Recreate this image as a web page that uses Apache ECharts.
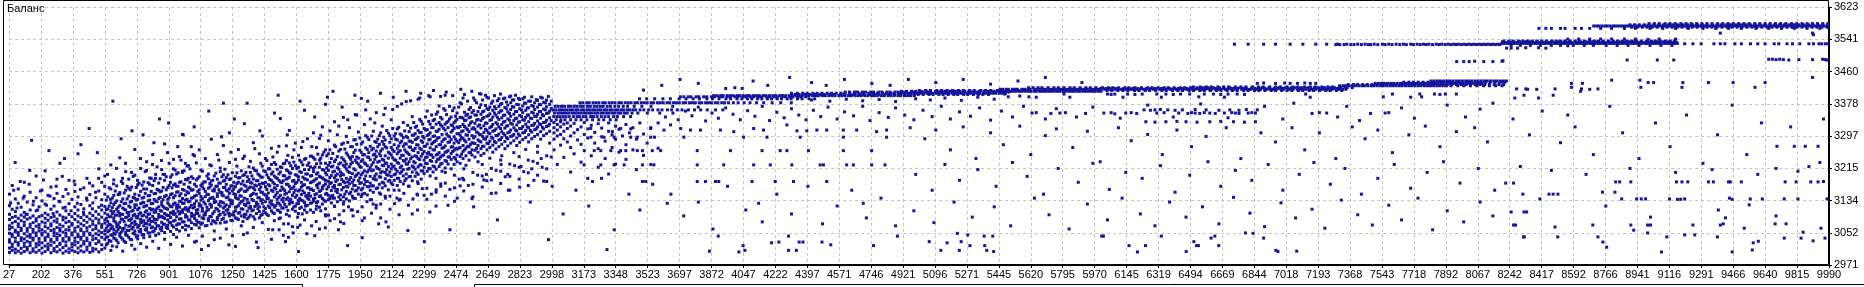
<!DOCTYPE html>
<html><head><meta charset="utf-8">
<script src="https://cdn.jsdelivr.net/npm/echarts@6/dist/echarts.min.js"></script>
<style>html,body{margin:0;padding:0;background:#fff}#c{width:1864px;height:287px}</style>
</head><body><div id="c"></div>
<script>
const title = 'Баланс';
const xTicks = [27,202,376,551,726,901,1076,1250,1425,1600,1775,1950,2124,2299,2474,2649,2823,2998,3173,3348,3523,3697,3872,4047,4222,4397,4571,4746,4921,5096,5271,5445,5620,5795,5970,6145,6319,6494,6669,6844,7018,7193,7368,7543,7718,7892,8067,8242,8417,8592,8766,8941,9116,9291,9466,9640,9815,9990];
const yTicks = [2971,3052,3134,3215,3297,3378,3460,3541,3623];

// cloud: [x, [y values]]
const cloudCols = [
[29,[3003,3014,3029,3035,3051,3062,3070,3086,3099,3121,3150]],[44,[3008,3017,3024,3043,3049,3066,3077,3091,3112,3172]],
[61,[3002,3011,3030,3039,3055,3059,3081,3094,3106,3138]],[77,[3006,3021,3027,3046,3053,3068,3075,3089,3127,3163]],
[93,[3001,3013,3033,3040,3058,3064,3083,3097,3117]],[110,[3005,3018,3026,3037,3050,3071,3079,3092,3104,3145,3180]],
[126,[3009,3015,3031,3044,3056,3063,3087,3099,3130]],[142,[3002,3020,3028,3041,3048,3067,3074,3090,3110,3155]],[150,[3286]],
[158,[3006,3012,3034,3039,3054,3061,3078,3095,3123]],[175,[3003,3017,3025,3045,3052,3069,3082,3088,3108,3141,3196]],
[191,[3008,3022,3030,3038,3057,3065,3073,3093,3118]],[207,[3001,3014,3027,3047,3051,3060,3080,3096,3133,3160]],
[224,[3005,3019,3033,3040,3055,3068,3077,3089,3102,3125,3209]],[240,[3010,3016,3024,3043,3049,3064,3084,3098,3147]],
[256,[3002,3021,3031,3036,3058,3070,3075,3091,3112,3168]],[273,[3007,3013,3028,3045,3053,3061,3082,3094,3120,3139]],
[289,[3004,3018,3035,3041,3050,3066,3079,3087,3105,3152,3188]],[305,[3009,3023,3026,3046,3057,3063,3073,3097,3131,3228]],
[322,[3001,3015,3032,3038,3054,3069,3085,3092,3115,3144]],[338,[3006,3020,3029,3044,3051,3060,3078,3090,3108,3162]],
[355,[3003,3012,3034,3040,3059,3067,3081,3099,3126,3185]],[371,[3008,3017,3025,3047,3052,3072,3076,3093,3137]],
[387,[3005,3022,3031,3039,3056,3064,3086,3101,3118,3157,3174]],[404,[3002,3014,3028,3043,3049,3068,3080,3095,3110,3143,3252]],
[420,[3007,3019,3036,3041,3058,3062,3075,3091,3124]],[436,[3004,3024,3030,3046,3053,3071,3084,3098,3113,3166]],
[453,[3009,3016,3033,3039,3057,3065,3079,3093,3135,3190]],[465,[3316]],
[469,[3003,3021,3027,3048,3051,3069,3087,3102,3121,3149]],[485,[3006,3013,3035,3044,3060,3074,3082,3096,3128,3171]],
[502,[3011,3025,3038,3050,3063,3070,3089,3106,3141]],[518,[3004,3029,3032,3047,3057,3077,3085,3099,3117,3158,3214]],
[534,[3010,3022,3041,3053,3066,3073,3092,3110,3136,3180]],
[551,[3014,3036,3049,3058,3077,3085,3102,3119,3150,3196]],[567,[3026,3042,3055,3070,3081,3098,3113,3143]],
[584,[3008,3031,3047,3063,3072,3093,3108,3128,3163,3224]],[595,[3385]],[600,[3039,3052,3061,3083,3090,3106,3124,3147,3186]],
[616,[3017,3033,3056,3068,3075,3097,3112,3133,3171]],[633,[3044,3050,3066,3079,3095,3101,3121,3154,3242]],
[649,[3006,3036,3059,3063,3086,3099,3115,3138,3177]],[665,[3028,3047,3053,3072,3091,3110,3127,3160,3207]],
[682,[3041,3058,3069,3084,3096,3104,3120,3145,3188]],[698,[3021,3035,3062,3077,3088,3107,3132,3168]],
[715,[3011,3049,3057,3073,3081,3099,3116,3123,3150,3198,3263]],[731,[3037,3045,3066,3090,3094,3111,3137,3174]],
[747,[3025,3054,3061,3078,3086,3103,3126,3157,3215]],[764,[3040,3048,3070,3083,3097,3118,3129,3142,3181]],
[780,[3016,3059,3065,3075,3092,3108,3121,3163,3232]],[797,[3043,3052,3073,3088,3100,3114,3135,3147,3191]],
[813,[3031,3055,3067,3081,3094,3112,3127,3172,3250]],[829,[3046,3063,3077,3086,3105,3110,3133,3152,3200]],
[846,[3013,3050,3070,3092,3099,3118,3139,3178]],[862,[3058,3066,3079,3094,3107,3123,3130,3158,3212]],
[878,[3036,3053,3074,3089,3101,3115,3144,3185,3277]],[895,[3063,3071,3085,3096,3112,3128,3137,3167]],
[911,[3023,3056,3078,3091,3103,3119,3149,3193]],[927,[3048,3067,3082,3099,3107,3125,3141,3173,3238]],
[944,[3041,3061,3072,3093,3114,3121,3155,3201]],[960,[3057,3075,3087,3100,3117,3132,3146,3180]],
[976,[3019,3066,3080,3104,3110,3127,3139,3162,3208,3301]],[993,[3060,3071,3092,3098,3116,3135,3148,3187]],
[1009,[3046,3069,3085,3107,3113,3131,3153,3168,3222]],[1025,[3063,3078,3094,3102,3122,3140,3160,3194]],
[1042,[3029,3074,3089,3097,3118,3126,3145,3175,3247]],
[1052,[3031,3072,3084,3101,3109,3133,3147,3170,3186,3229]],[1068,[3065,3079,3095,3120,3126,3152,3161,3194,3262]],
[1085,[3044,3077,3090,3107,3114,3139,3168,3176,3208]],[1101,[3070,3098,3103,3125,3144,3157,3181,3240]],
[1118,[3020,3083,3088,3111,3134,3149,3165,3189,3201]],[1134,[3075,3093,3117,3122,3140,3173,3184,3222,3289]],
[1150,[3057,3081,3106,3129,3137,3158,3163,3196]],[1167,[3086,3091,3112,3144,3151,3170,3188,3250]],
[1183,[3039,3077,3099,3120,3131,3155,3178,3207,3216]],[1200,[3089,3104,3115,3128,3146,3167,3183,3199,3273]],
[1216,[3062,3080,3109,3123,3141,3160,3175,3192]],[1233,[3095,3101,3119,3136,3152,3164,3187,3230,3305]],
[1249,[3045,3083,3098,3126,3133,3158,3171,3204]],[1266,[3018,3090,3108,3117,3142,3149,3169,3195,3238]],
[1282,[3086,3102,3121,3138,3156,3180,3191,3263]],[1298,[3070,3095,3113,3131,3145,3163,3176,3209]],
[1315,[3092,3099,3124,3140,3157,3173,3199,3246,3328]],[1331,[3052,3088,3107,3128,3137,3161,3182,3194]],
[1348,[3097,3115,3119,3146,3168,3179,3205,3233]],[1364,[3066,3093,3110,3134,3152,3166,3188,3216,3280]],
[1381,[3029,3101,3122,3129,3150,3171,3184,3209]],[1397,[3090,3106,3118,3141,3162,3175,3198,3252]],
[1413,[3078,3099,3127,3136,3155,3178,3193,3221,3297]],[1430,[3103,3114,3131,3148,3169,3180,3207,3240]],
[1446,[3061,3096,3120,3139,3153,3174,3192,3214]],[1463,[3036,3108,3125,3133,3160,3185,3201,3225,3266]],
[1479,[3083,3101,3117,3143,3166,3176,3196,3230]],[1495,[3110,3128,3137,3154,3172,3190,3213,3256]],
[1512,[3090,3104,3122,3147,3159,3181,3206,3219,3341]],[1528,[3046,3115,3131,3140,3163,3184,3197,3227]],
[1545,[3099,3118,3137,3152,3175,3188,3211,3235,3272]],[1561,[3095,3125,3133,3156,3170,3193,3204,3229,3311]],
[1578,[3068,3112,3129,3147,3165,3183,3215,3243]],[1594,[3107,3120,3142,3160,3177,3199,3222,3279]],
[1611,[3005,3101,3126,3134,3158,3186,3194,3218,3248]],[1627,[3117,3135,3149,3168,3180,3205,3231,3268]],
[1644,[3085,3110,3129,3153,3174,3189,3212,3238,3362]],[1660,[3122,3140,3147,3166,3186,3201,3223,3290]],
[1677,[3110,3127,3145,3162,3179,3196,3219,3246]],[1693,[3104,3132,3138,3159,3183,3207,3215,3242,3305]],
[1710,[3120,3129,3151,3172,3189,3201,3227,3268]],[1726,[3062,3117,3144,3157,3178,3195,3218,3236,3291]],
[1742,[3125,3139,3164,3168,3191,3212,3249,3320]],[1759,[3113,3132,3150,3176,3185,3204,3228,3262,3377]],
[1775,[3097,3136,3147,3169,3183,3210,3223,3252,3285]],[1791,[3128,3145,3159,3179,3197,3219,3240]],
[1808,[3119,3140,3166,3172,3191,3208,3232,3274,3333]],[1824,[3131,3154,3162,3186,3201,3217,3245,3300]],
[1841,[3080,3136,3148,3175,3196,3206,3229,3263]],[1857,[3125,3143,3167,3182,3199,3223,3238,3279,3344]],
[1873,[3138,3157,3170,3190,3214,3226,3254,3296]],[1890,[3133,3151,3176,3186,3205,3219,3243,3318]],
[1906,[3110,3145,3163,3180,3202,3230,3245,3270]],[1922,[3139,3158,3172,3195,3211,3236,3261,3288,3351]],
[1939,[3150,3166,3184,3203,3226,3241,3307]],[1955,[3144,3161,3179,3199,3218,3233,3256,3277,3392]],
[1972,[3090,3152,3174,3188,3209,3229,3250,3326]],[1988,[3148,3169,3182,3206,3222,3244,3263,3294]],
[2004,[3136,3160,3178,3195,3217,3237,3271,3340]],[2021,[3155,3171,3189,3211,3230,3249,3266,3309]],
[2037,[3122,3164,3186,3201,3219,3245,3259,3281,3356]],[2054,[3153,3175,3194,3213,3233,3252,3276,3298]],
[2070,[3166,3180,3207,3223,3238,3264,3283,3322]],[2086,[3145,3171,3189,3205,3229,3247,3270,3287,3367]],
[2103,[3067,3161,3183,3198,3220,3241,3256,3304]],[2119,[3178,3195,3214,3226,3249,3268,3290,3338]],
[2135,[3160,3185,3199,3221,3237,3258,3275,3297]],[2152,[3172,3190,3208,3230,3252,3266,3287,3315,3372]],
[2168,[3137,3182,3203,3217,3241,3260,3280,3302]],[2185,[3176,3196,3212,3235,3248,3271,3293,3331]],
[2201,[3189,3201,3226,3239,3257,3277,3296,3384]],[2217,[3170,3194,3215,3232,3250,3269,3284,3308]],
[2234,[3100,3184,3206,3221,3244,3262,3281,3299,3346]],[2250,[3195,3213,3229,3247,3266,3288,3303,3319]],
[2266,[3177,3200,3219,3240,3255,3274,3294,3311,3390]],[2283,[3188,3209,3224,3246,3263,3285,3306,3334]],
[2299,[3147,3202,3218,3236,3258,3271,3292,3316]],[2316,[3208,3227,3244,3253,3277,3298,3313,3360]],
[2332,[3196,3214,3235,3250,3267,3289,3305,3327,3396]],[2348,[3206,3221,3243,3262,3280,3296,3318,3336]],
[2365,[3161,3213,3232,3249,3270,3286,3309,3327,3352]],[2381,[3220,3239,3255,3275,3293,3314,3331,3373]],
[2397,[3208,3228,3247,3266,3283,3301,3322,3340]],[2414,[3216,3235,3256,3272,3290,3312,3327,3362,3400]],
[2430,[3122,3226,3244,3260,3281,3297,3318,3334]],[2447,[3214,3238,3253,3269,3288,3307,3325,3345]],
[2463,[3225,3243,3261,3279,3295,3316,3331,3368]],[2479,[3232,3249,3264,3284,3303,3320,3339,3355]],
[2496,[3171,3228,3245,3268,3287,3299,3321,3344,3381]],[2512,[3240,3258,3273,3291,3310,3326,3342,3393]],
[2528,[3223,3247,3266,3282,3300,3317,3337,3349]],[2545,[3236,3255,3270,3289,3308,3324,3343,3364]],
[2561,[3139,3249,3262,3280,3298,3315,3333,3356]],[2577,[3244,3261,3278,3296,3314,3329,3350,3387]],
[2594,[3232,3256,3273,3287,3305,3322,3339,3359]],[2610,[3248,3265,3282,3300,3317,3336,3352,3376,3403]],
[2626,[3186,3253,3271,3290,3306,3323,3344,3360]],[2643,[3262,3279,3295,3311,3329,3347,3366,3395]],
[2659,[3241,3268,3284,3303,3318,3337,3353,3370]],[2675,[3256,3274,3291,3309,3326,3345,3362,3385]],
[2692,[3153,3264,3280,3298,3315,3331,3350,3366]],[2708,[3270,3287,3302,3320,3339,3356,3372,3391]],
[2724,[3247,3276,3293,3308,3326,3343,3361,3379]],[2741,[3265,3283,3299,3317,3334,3350,3369,3393]],
[2757,[3200,3272,3290,3305,3323,3340,3358,3375]],[2773,[3279,3296,3312,3329,3347,3364,3381,3398]],
[2790,[3255,3285,3301,3318,3336,3352,3370,3388]],[2806,[3273,3292,3310,3325,3342,3359,3377]],
[2822,[3168,3281,3298,3316,3333,3349,3366,3389]],[2839,[3288,3305,3321,3338,3356,3373,3391]],
[2855,[3263,3293,3311,3327,3344,3362,3380]],[2871,[3282,3300,3318,3333,3350,3368,3385]],
[2888,[3214,3290,3307,3324,3341,3357,3374,3396]],[2904,[3296,3313,3329,3347,3364,3381]],
[2920,[3271,3301,3320,3335,3352,3370,3387]],[2937,[3289,3308,3326,3342,3359,3376,3395]],
[2953,[3183,3298,3315,3331,3348,3365,3382]],[2969,[3303,3321,3337,3354,3371,3388]],
[2986,[3279,3309,3327,3343,3360,3377]],
[3010,[3262,3289,3305,3318,3331]],[3028,[3225,3297,3312,3326]],[3046,[3274,3301,3320,3333]],
[3064,[3243,3290,3309,3327]],[3083,[3282,3316,3330]],[3101,[3206,3268,3297,3322]],[3120,[3252,3305,3329]],
[3139,[3287,3313]],[3158,[3231,3276,3320]],[3176,[3260,3301,3331]],[3195,[3190,3292,3315]],
[3214,[3247,3324]],[3233,[3279,3306]],[3252,[3218,3265,3328]],[3271,[3295,3317]],[3290,[3240,3284]],
[3309,[3201,3309,3330]],[3328,[3268,3300]],[3347,[3226,3289,3322]],[3366,[3256,3314]],[3385,[3297]],
[3404,[3238,3275,3326]],[3423,[3305]],[3442,[3262,3318]],[3461,[3212,3289]],[3480,[3330]],
[3500,[3248,3302]],[3520,[3279]],[3540,[3225,3318]],[3560,[3294]],[3580,[3266,3330]]
];

// second, interleaved set of cloud columns
const cloudCols2 = [
[559,[3022,3041,3064,3089,3111,3135]],[575,[3033,3058,3074,3093,3120,3166]],[592,[3019,3046,3068,3101,3116,3140]],
[608,[3037,3049,3080,3097,3129,3158]],[624,[3027,3061,3072,3106,3117,3149]],[641,[3040,3054,3087,3099,3131,3182]],
[657,[3031,3064,3081,3112,3126,3153]],[673,[3046,3059,3092,3103,3138,3170]],[690,[3036,3070,3085,3117,3130,3161]],
[706,[3051,3066,3096,3109,3142,3195]],[723,[3042,3074,3091,3123,3135,3167]],[739,[3056,3071,3100,3115,3147,3178]],
[755,[3047,3079,3095,3128,3140,3173]],[772,[3060,3076,3105,3120,3152,3207]],[788,[3052,3083,3099,3133,3146,3179]],
[805,[3065,3081,3110,3126,3157,3190]],[821,[3057,3088,3104,3137,3151,3184]],[837,[3070,3086,3114,3131,3162,3219]],
[854,[3062,3093,3109,3142,3156,3189]],[870,[3074,3091,3119,3136,3167,3200]],[887,[3066,3098,3114,3147,3161,3194]],
[903,[3079,3096,3123,3141,3172,3228]],[919,[3071,3103,3118,3151,3166,3199]],[936,[3084,3101,3128,3146,3176,3211]],
[952,[3075,3107,3123,3156,3170,3204]],[968,[3088,3106,3132,3151,3181,3236]],[985,[3080,3112,3127,3160,3175,3209]],
[1001,[3093,3110,3137,3156,3186,3221]],[1017,[3085,3117,3132,3165,3180,3214]],[1034,[3097,3115,3141,3161,3190,3250]],
[1060,[3079,3102,3111,3157,3190]],[1077,[3074,3121,3135,3144,3172,3211]],[1093,[3088,3097,3130,3163,3181]],
[1110,[3071,3108,3117,3150,3196]],[1126,[3094,3125,3139,3168,3177,3224]],[1142,[3083,3101,3142,3159,3185]],
[1159,[3077,3114,3131,3170,3203]],[1175,[3096,3107,3124,3161,3178,3236]],[1192,[3086,3130,3148,3154,3194]],
[1208,[3079,3098,3119,3167,3185,3213]],[1225,[3102,3111,3143,3158,3199]],[1241,[3084,3126,3134,3171,3189,3256]],
[1257,[3097,3105,3151,3163,3180]],[1274,[3089,3118,3139,3177,3204,3221]],[1290,[3104,3127,3146,3160,3192]],
[1307,[3081,3112,3133,3183,3197,3240]],[1323,[3099,3121,3157,3170,3205]],[1340,[3092,3115,3128,3166,3187,3219]],
[1356,[3108,3137,3149,3178,3196]],[1372,[3087,3119,3161,3173,3210,3265]],[1389,[3113,3125,3141,3184,3201]],
[1405,[3096,3134,3155,3168,3193,3228]],[1421,[3107,3118,3150,3177,3209]],[1438,[3099,3139,3145,3162,3199,3235]],
[1454,[3116,3130,3171,3187,3214]],[1471,[3103,3123,3157,3180,3206,3244]],[1487,[3121,3148,3163,3192,3225]],
[1504,[3108,3127,3142,3185,3201,3271]],[1520,[3115,3136,3168,3179,3217]],[1536,[3124,3150,3159,3196,3228]],
[1553,[3109,3141,3175,3190,3209,3248]],[1569,[3129,3137,3164,3203,3222]],[1586,[3118,3154,3169,3185,3231,3262]],
[1602,[3126,3147,3180,3198,3215]],[1618,[3114,3139,3161,3207,3236]],[1635,[3133,3158,3172,3193,3224,3283]],
[1651,[3121,3145,3188,3201,3240]],[1668,[3137,3152,3166,3212,3229]],[1684,[3128,3163,3181,3197,3246,3270]],
[1701,[3140,3149,3186,3219,3238]],[1717,[3131,3166,3175,3204,3251]],[1733,[3146,3159,3193,3228,3241,3299]],
[1750,[3135,3172,3188,3211,3256]],[1766,[3152,3163,3199,3216,3247]],[1783,[3139,3177,3192,3230,3262,3310]],
[1799,[3147,3168,3206,3221,3253]],[1815,[3158,3182,3197,3237,3270]],[1832,[3143,3174,3213,3226,3259,3322]],
[1848,[3161,3187,3202,3242,3276]],[1865,[3150,3179,3219,3233,3264]],[1881,[3168,3181,3208,3249,3281,3338]],
[1897,[3155,3192,3226,3238,3270]],[1914,[3172,3186,3214,3255,3287]],[1930,[3160,3199,3230,3244,3276,3350]],
[1947,[3177,3191,3220,3261,3292]],[1963,[3165,3204,3237,3249,3282]],[1979,[3182,3196,3226,3267,3298,3363]],
[1996,[3169,3211,3243,3255,3288]],
[2012,[3171,3209,3224,3262,3297]],[2029,[3188,3196,3238,3251,3283,3330]],[2045,[3166,3215,3231,3270,3289]],
[2061,[3193,3204,3247,3259,3305]],[2078,[3178,3222,3236,3276,3294,3351]],[2094,[3199,3212,3228,3267,3311]],
[2111,[3185,3206,3253,3281,3298]],[2127,[3174,3219,3242,3262,3316,3364]],[2143,[3201,3213,3236,3289,3303]],
[2160,[3190,3228,3257,3272,3319]],[2176,[3207,3221,3248,3284,3299,3378]],[2193,[3184,3233,3262,3277,3310]],
[2209,[3213,3226,3254,3293,3324]],[2225,[3195,3240,3269,3284,3317,3386]],[2242,[3218,3232,3260,3299,3331]],
[2258,[3204,3245,3275,3290,3322]],[2275,[3224,3237,3266,3306,3339,3393]],[2291,[3209,3252,3281,3296,3327]],
[2307,[3228,3243,3271,3312,3345]],[2324,[3215,3256,3287,3301,3334,3399]],[2340,[3233,3249,3277,3318,3350]],
[2356,[3219,3262,3283,3297,3339]],[2373,[3238,3251,3292,3309,3358]],[2389,[3226,3244,3275,3325,3344,3397]],
[2406,[3249,3268,3288,3316,3366]],[2422,[3233,3257,3302,3331,3351]],[2438,[3244,3282,3295,3340,3372]],
[2455,[3258,3270,3311,3323,3361,3399]],[2471,[3239,3265,3289,3335,3347]],[2488,[3266,3280,3303,3318,3370]],
[2504,[3251,3293,3308,3344,3378]],[2520,[3262,3286,3321,3336,3357,3402]],[2537,[3271,3299,3313,3352,3385]],
[2553,[3255,3276,3330,3345,3369]],[2570,[3279,3292,3318,3361,3393]],[2586,[3266,3307,3337,3350,3381]],
[2602,[3284,3301,3325,3369,3404]],[2619,[3271,3296,3341,3358,3388]],[2635,[3289,3314,3330,3374,3400]],
[2651,[3278,3305,3349,3364,3393]],[2668,[3294,3321,3338,3380]],[2684,[3283,3311,3355,3371,3399]],
[2700,[3298,3327,3344,3386]],[2717,[3288,3316,3360,3377,3403]],[2733,[3303,3332,3349,3391]],
[2750,[3293,3322,3366,3383]],[2766,[3307,3337,3354,3396]],[2782,[3297,3327,3371,3388]],
[2799,[3312,3341,3359,3400]],[2815,[3302,3332,3376,3392]],[2832,[3316,3346,3363]],
[2848,[3306,3337,3380,3395]],[2864,[3320,3350,3368]],[2881,[3311,3342,3385]],[2897,[3324,3355,3372]],
[2913,[3315,3346,3389]],[2930,[3328,3359,3377]],[2946,[3319,3351,3393]],[2963,[3332,3363,3381]],
[2979,[3323,3355,3397]],[2995,[3336,3367,3385]]
];

// lower fringe of the cloud
const cloudLower = [
[1505,[3060,3088]],[1530,[3075]],[1556,[3041,3075]],[1582,[3052]],[1607,[3066,3092]],[1632,[3100]],[1657,[3050,3104]],
[1683,[3070]],[1708,[3081,3112]],[1733,[3108]],[1758,[3065,3098]],[1784,[3083]],[1809,[3088,3120]],[1834,[3098]],
[1859,[3076,3108,3131]],[1885,[3118]],[1910,[3095,3140]],[1935,[3106]],[1960,[3083,3118,3150]],[1986,[3131]],
[2011,[3102,3136]],[2036,[3115]],[2061,[3090,3125,3150]],[2087,[3140]],[2112,[3112,3145]],[2137,[3126]],
[2162,[3098,3135,3160]],[2188,[3152]],[2213,[3122,3170]],[2238,[3138]],[2263,[3110,3148,3181]],[2289,[3164]],
[2314,[3137,3165]],[2339,[3150]],[2364,[3120,3155,3190]],[2390,[3176]],[2415,[3145,3178,3205]],[2440,[3162]],
[2465,[3132,3166,3198]],[2491,[3188]],[2516,[3158,3186,3214]],[2541,[3172]],[2566,[3143,3175,3205]],[2592,[3198]],
[2617,[3168,3196,3225]],[2642,[3184]],[2667,[3152,3186,3215]],[2693,[3210]],[2718,[3177,3208,3236]],[2743,[3194]],
[2768,[3160,3195,3226]],[2794,[3222]],[2819,[3188,3218,3245]],[2844,[3207]],[2869,[3172,3204,3236]],[2895,[3233]],
[2920,[3198,3228,3256]],[2945,[3218]],[2970,[3182,3214,3247]],[2995,[3244]]
];

// bands: [y, [x values]]
const bandRows = [
[3338,[3022,3048,3070,3101,3130,3158,3190,3221,3255,3282,3318,3350]],
[3346,[3009,3027,3042,3059,3075,3093,3116,3136,3149,3169,3185,3210,3226,3246,3269,3289,3309,3336,3357,3391,3429]],
[3355,[3012,3031,3046,3062,3078,3093,3111,3125,3140,3156,3173,3187,3204,3218,3235,3249,3267,3280,3298,3312,3330,3344,3362,3376,3396,3411,3437,3469,3521,3589,3661]],
[3363,[3004,3019,3037,3051,3067,3082,3098,3111,3129,3142,3161,3174,3191,3205,3222,3236,3253,3267,3285,3298,3316,3329,3347,3361,3379,3392,3411,3424,3442,3457,3481,3502,3528,3550,3579,3601,3631,3654,3685,3711,3746,3779,3813,3849,3894,3934]],
[3372,[3016,3033,3051,3068,3089,3103,3121,3137,3156,3170,3193,3209,3230,3246,3264,3279,3301,3319,3343,3364,3389,3413,3449,3491,3541]],
[3381,[3152,3168,3189,3203,3224,3240,3256,3277,3291,3312,3328,3344,3365,3379,3400,3416,3432,3453,3467,3488,3504,3520,3541,3555,3576,3592,3608,3629,3643,3664,3680,3696,3717,3731,3752,3768,3784,3805,3819,3840,3856,3872,3893,3907,3928,3944,3965,3992,4018,4051,4083,4119,4158,4204,4251,4309]],
[3391,[3478,3517,3561,3606,3647,3695,3733,3772,3806,3847,3878,3913,3951,3977,4012,4038,4069,4093,4124,4148,4178,4201,4232,4255,4287,4308,4343,4368,4407,4437]],
[3396,[3702,3721,3745,3760,3788,3803,3829,3846,3872,3889,3915,3931,3958,3974,4001,4017,4044,4060,4087,4103,4130,4146,4173,4189,4216,4232,4259,4275,4302,4318,4345,4361,4388]],
[3399,[3884,3901,3922,3936,3957,3974,3990,4012,4027,4046,4065,4079,4101,4117,4134,4156,4170,4190,4208,4224,4246,4261,4279,4298,4314,4335,4352,4369,4389,4404,4425,4442,4458,4479,4495,4514,4532,4548,4569,4585,4603,4622,4638,4659,4675,4692,4712,4728,4749,4765,4782,4802,4818,4839,4855,4872,4893,4908,4929,4946,4963,4982]],
[3402,[4330,4351,4384,4409,4437,4470,4489,4521,4543,4578,4600,4629,4651,4686,4705,4738,4764,4786,4819,4843,4874,4896,4927,4950,4982,5004,5031,5063,5085,5117,5140,5168,5199,5220,5253,5275,5306,5333,5358,5389]],
[3405,[4310,4342,4371,4396,4427,4451,4477,4506,4529,4555,4582,4604,4631,4657,4680,4706,4733,4755,4781,4808,4830,4856,4874,4895,4911,4930,4949,4963,4982,4998,5017,5033,5051,5068,5084,5103,5119,5137,5154,5170,5189,5205,5223,5240,5256,5275,5291,5309,5326,5342,5361,5377,5395,5412,5428,5447,5463,5481]],
[3408,[4604,4627,4655,4671,4699,4716,4744,4760,4788,4805,4833,4849,4877,4894,4922,4938,4966,4983,5011,5027,5055,5072,5100,5116,5144,5161,5189,5205,5233,5250,5278,5294,5322,5339,5367,5383,5411,5428,5456,5472,5500]],
[3410,[4912,4940,4968,4991,5020,5048,5071,5100,5128,5150,5179,5207,5230,5259,5287,5309,5338,5366,5389,5418,5446,5459,5477,5490,5508,5523,5539,5557,5570,5588,5604,5619,5637,5650,5668,5684,5699,5717,5730,5748,5764,5779,5797,5810,5828,5844,5859,5877,5890,5908,5924,5939,5957,5970,5988,6004]],
[3412,[5010,5044,5070,5106,5131,5163,5192,5224,5251,5284,5310,5347,5372,5401,5437,5462,5494,5528,5551,5585,5611,5646,5672,5703,5739,5764,5797,5826,5853,5887,5913,5948,5972,6004,6038,6063,6097,6125,6152,6188,6212,6247,6271,6304,6338,6362,6396,6425,6451,6487,6511,6546,6570,6603,6637,6661,6695,6724,6750,6786,6810,6845,6869,6902,6936,6960,6994,7023,7049,7085,7109,7144,7168,7201,7235,7259,7293,7322]],
[3415,[5452,5466,5485,5497,5519,5535,5546,5571,5586,5604,5617,5640,5652,5669,5691,5703,5724,5738,5755,5779,5790,5812,5826,5843,5867,5879,5901,5915,5930,5954,5968,5987,6002,6024,6037,6055,6078,6090,6112,6126,6143,6167,6180,6199,6215,6238,6251,6270,6293,6305,6326,6341,6359,6382,6394,6416,6430,6447,6471,6484,6503,6519,6542,6555,6574,6597,6609,6631,6645,6662,6686,6698,6720,6734,6751,6775,6788,6807,6823,6846,6859,6878,6901,6913,6935,6949,6966,6990,7003,7025,7039,7056,7080,7092,7111,7127,7150,7163,7182,7205,7217,7239,7253,7270,7294,7307,7328,7345]],
[3417,[6004,6031,6052,6083,6101,6130,6155,6178,6207,6226,6254,6282,6301,6333,6350,6379,6404,6427,6456,6475,6503,6531,6550,6582,6599,6628,6653,6676,6705,6724,6752,6780,6799,6831,6848,6877,6902,6925,6954,6973,7001,7029,7048,7080,7097,7126,7151,7174,7203,7222,7250,7278,7297]],
[3419,[5608,5633,5660,5681,5715,5747,5771,5802,5835,5858,5890,5922,5946,5977,6013,6046,6069,6101,6135,6158,6190,6226,6262,6284,6317,6350,6372,6405,6439,6463,6494,6530,6566,6588,6620,6653,6677,6710,6743,6767,6797,6830,6868,6890,6924,6958,6980,7014,7047,7070,7102,7138,7172,7194,7228,7262,7283,7318,7352,7380]],
[3421,[6510,6548,6581,6607,6644,6676,6703,6739,6771,6798,6834,6866,6893,6929,6961,6988,7024,7056,7083,7119,7151,7178,7214,7246,7273,7309,7341]],
[3424,[7312,7330,7344,7363,7381,7396,7415,7432,7447,7466,7484,7499,7517,7535,7550,7569,7586,7602,7620,7637,7653,7672,7689,7705,7723,7740,7756,7775,7792,7808,7826,7843,7859,7878,7895,7920,7958,7990,8027,8062,8099,8131,8165,8200]],
[3427,[7358,7386,7409,7437,7462,7488,7514,7539,7566,7590,7617,7642,7668,7694,7719,7745,7771,7797,7822,7848,7874,7900,7925,7951,7977,8003,8028,8054,8080,8106,8131,8157,8183,8209]],
[3430,[7505,7523,7541,7556,7574,7592,7607,7626,7644,7659,7677,7695,7710,7729,7747,7762,7780,7798,7813,7832,7850,7865,7883,7901,7916,7935,7953,7968,7986,8004,8019,8038,8056,8071,8090]],
[3433,[7662,7690,7715,7741,7768,7795,7821,7847,7872,7899,7926,7951,7978,8004,8030,8057,8083,8109,8135,8162,8188,8215]],
[3436,[7811,7829,7846,7862,7880,7898,7913,7931,7949,7965,7983,8001,8016,8034,8052,8068,8086,8104,8119,8137,8155,8171,8189,8207,8224]],
[3529,[6735,6810,6895,6960,7040,7110,7180,7240,7300,7350,7410,7450,7500,7545,7580,7620,7660,7700,7735,7770,7800,7840,7870,7905,7935,7960,7990,8020,8045,8075,8100,8125,8150,8175]],
[3528,[7290,7312,7335,7372,7390,7430,7468,7480,7520,7560,7598,7640,7676,7715,7752,7785,7820,7855,7888,7920,7948,7975,8005,8032,8060,8088,8112,8138,8162,8188]],
[3531,[8198,8212,8229,8241,8257,8273,8286,8303,8316,8333,8347,8361,8379,8392,8408,8424,8437,8454,8467,8484,8498,8512,8530,8543,8559,8575,8588,8605,8618,8635,8649,8663,8681,8694,8710,8726,8739,8756,8769,8786,8800,8814,8832,8845,8861,8877,8890,8907,8920,8937,8951,8965,8983,8996,9012,9028,9041,9058,9071,9088,9102,9116,9134,9147,9160]],
[3533,[8205,8220,8248,8262,8281,8309,8322,8341,8369,8384,8401,8430,8445,8461,8490,8506,8522,8551,8566,8582,8611,8627,8643,8672,8688,8703,8732,8748,8764,8793,8809,8825,8854,8869,8885,8914,8930,8946,8975,8990,9006,9035,9051,9067,9096,9111,9127,9155]],
[3535,[8203,8236,8266,8297,8329,8356,8388,8417,8446,8479,8508,8539,8570,8599,8628,8660,8690,8719,8750,8780,8811,8840,8871,8902,8931,8962,8991,9022,9052,9083,9112,9143]],
[3537,[8210,8238,8259,8290,8314,8339,8366,8393,8418,8442,8471,8497,8520,8547,8573,8601,8624,8650,8679,8705,8728,8755,8782,8808,8832,8858,8886,8913,8936,8962,8990,9017,9040,9066,9094,9121,9146]],
[3526,[8250,8300,8355,8410,8470,8520,8590,8650,8700,8770,8830,8890,8950,9010,9070,9130]],
[3530,[9200,9245,9290,9360,9395,9420,9475,9510,9560,9600,9640,9690,9715,9760,9790,9830,9880,9905,9935,9950,9970,9985]],
[3569,[8402,8440,8470,8520,8545,8600,8635,8680,8740,8800,8870,8930,9010,9080,9150,9220,9300,9370,9440,9510,9590,9660,9730,9800,9870,9940]],
[3572,[8910,8941,8968,8994,9022,9049,9078,9103,9131,9159,9186,9212,9241,9268,9296,9322,9349,9377,9404,9432,9459,9487,9513,9541,9569,9596,9622,9651,9678,9705,9733,9760,9787,9814,9842,9869,9897,9924,9951,9979]],
[3575,[8702,8718,8731,8747,8763,8776,8792,8808,8821,8837,8853,8866,8882,8898,8911,8927,8943,8956,8972,8988,9001,9017,9033,9046,9062,9078,9091,9107,9123,9136,9152,9168,9181,9197,9213,9226,9242,9258,9271,9287,9303,9316,9332,9348,9361,9377,9393,9406,9422,9438,9451,9467,9483,9496,9512,9528,9541,9557,9573,9586,9602,9618,9631,9647,9663,9676,9692,9708,9721,9737,9753,9766,9782,9798,9811,9827,9843,9856,9872,9888,9901,9917,9933,9946,9962,9978]],
[3578,[8900,8926,8951,8979,9005,9031,9057,9085,9110,9138,9163,9190,9217,9243,9270,9296,9322,9349,9376,9401,9429,9454,9481,9508,9534,9560,9588,9613,9640,9666,9692,9719,9746,9771,9799,9824,9850,9878,9903,9930,9956,9983]],
[3581,[9005,9034,9061,9093,9120,9148,9179,9207,9236,9265,9294,9322,9350,9381,9409,9438,9466,9495,9524,9552,9583,9611,9640,9668,9697,9725,9754,9785,9813,9842,9870,9899,9927,9956,9984]]
];

// scattered points [x, y]
const scatterPts = [
[35,3128],[52,3160],[70,3115],[88,3182],[104,3140],[120,3099],[137,3175],[160,3132],[183,3110],[198,3158],[215,3186],[232,3122],[251,3145],[268,3101],[285,3170],[300,3132],[318,3195],[334,3117],[350,3151],[366,3108],[383,3183],[400,3127],[417,3162],[434,3104],[451,3140],[467,3178],[483,3113],[500,3155],[517,3190],[533,3122],[550,3170],[566,3200],[582,3137],[598,3176],[615,3215],[632,3150],[648,3190],[664,3228],[681,3165],[697,3205],[714,3140],[730,3185],[746,3240],[763,3163],[779,3210],[796,3175],[812,3225],[828,3190],[845,3160],[861,3235],[878,3200],[894,3255],[910,3180],[926,3214],[943,3170],[959,3245],[975,3205],[992,3228],[1008,3190],[1024,3270],
[60,3230],[140,3210],[245,3260],[330,3240],[420,3275],[510,3255],[640,3290],[700,3310],[820,3280],[900,3330],[980,3300],
[1080,3010],[1150,3035],[1230,3022],[1310,3048],[1390,3015],[1470,3060],[1540,3030],[1620,3072],[1700,3045],[1760,3095],[1830,3060],[1900,3110],[1960,3040],[2020,3125],[2090,3080],[2150,3140],[2210,3058],[2260,3150],[2330,3105],[2390,3170],[2440,3060],[2510,3190],[2570,3118],[2640,3200],[2700,3085],[2760,3160],[2830,3220],[2880,3130],[2940,3240],[3000,3170],[3060,3100],[3130,3160],[3200,3120],[3270,3190],[3340,3060],[3420,3150],[3480,3110],[3550,3175],[1880,3020],[2300,3030],[2600,3050],[2980,3035],[3300,3010],[1650,3120],[1800,3140],[2050,3075],[2480,3140],[2720,3225],[2900,3185],
[760,3300],[850,3340],[950,3270],[1040,3320],[1120,3360],[1190,3295],[1260,3340],[1330,3380],[1400,3310],[1480,3355],[1550,3300],[1620,3385],[1700,3345],[1770,3395],[1850,3370],[1920,3400],[1990,3385],[2060,3405],[2130,3395],[2200,3410],[2280,3405],[2350,3412],[2420,3408],[2500,3415],[2560,3410],[1200,3380],[1500,3400],[1800,3410],
[8225,3519],[8250,3519],[8285,3519],[8330,3520],[8400,3520],[8440,3519],[8560,3525],
[8560,3542],[8620,3542],[8680,3542],[8740,3542],[8800,3542],[8870,3542],[8930,3542],[9000,3541],[9060,3542],[9150,3542],
[8205,3487],[8885,3489],[9050,3489],[9140,3489],[9660,3491],[9680,3491],[9700,3490],[9720,3491],[9740,3490],[9770,3489],[9825,3490],[9900,3490],[9955,3491],[9970,3490],[9980,3489],
[8200,3434],[8280,3416],[8330,3416],[8490,3416],[8635,3416],[8725,3416],[8270,3393],[8400,3393],[8800,3438],[8955,3438],[9000,3432],[9030,3432],[9190,3432],[9330,3432],[9465,3432],[9640,3432],[8960,3420],[9185,3420],[8580,3420],[9585,3420],[9900,3445],[9395,3557],[9900,3557],[9905,3553],
[7952,3485],[7990,3485],[8020,3485],[8050,3486],[8100,3485],[8150,3485],[8200,3486],
[8220,3178],[8263,3178],[8314,3150],[8457,3150],[8480,3150],[8506,3150],[8407,3138],[8250,3105],[8320,3105],[8335,3105],[8263,3072],[8274,3072],[8317,3042],[8322,3042],[8490,3067],[8505,3042],[8750,3155],[8818,3155],[8768,3120],[8697,3072],[8725,3042],[8752,3029],[8773,3016],[8822,3181],[8844,3181],[8905,3181],[8855,3138],[8937,3138],[8962,3138],[8986,3138],[8905,3072],[8921,3059],[8997,3072],[9013,3072],[9013,3092],[8997,3052],[9073,3004],[9102,3042],[9117,3138],[9155,3181],[9185,3181],[9217,3181],[9160,3137],[9178,3137],[9200,3138],[9200,3047],[9245,3072],[9255,3047],[9330,3181],[9357,3181],[9384,3110],[9423,3090],[9395,3072],[9411,3075],[9379,3042],[9440,3181],[9450,3181],[9445,3140],[9460,3137],[9460,3004],[9510,3181],[9526,3064],[9559,3138],[9553,3123],[9575,3027],[9603,3031],[9570,3009],[9625,3138],[9700,3095],[9695,3075],[9755,3075],[9745,3138],[9745,3039],[9820,3138],[9837,3039],[9848,3054],[9903,3032],[9946,3064],[9968,3039],[9979,3138],[9750,3181],[9810,3181],[9890,3181],[9930,3181],[9960,3182],
[3861,3006],[3909,3044],[4022,3004],[4045,3020],[4055,3008],[4201,3027],[4241,3029],[4294,3044],[4294,3008],[4337,3008],[4352,3029],[4373,3029],[4477,3029],[4525,3022],[4759,3020],[4890,3044],[5064,3030],[5128,3008],[5162,3027],[5218,3051],[5229,3008],[5239,3030],[5275,3047],[5287,3020],[5365,3044],[5368,3020],[5379,3008],[5412,3044],[5417,3005],[6008,3044],[6018,3044],[6158,3020],[6204,3004],[6248,3020],[6335,3044],[6471,3005],[6513,3030],[6528,3020],[6538,3020],[6607,3039],[6628,3044],[6649,3020],[6795,3052],[6837,3051],[6895,3039],[6962,3008],[6973,3005],[7076,3006],
[3211,3316],[3330,3308],[3375,3316],[3430,3315],[3539,3316],[3612,3312],[3648,3325],[3703,3316],[3757,3312],[3812,3312],[3921,3312],[3994,3308],[4103,3316],[4157,3312],[4285,3325],[4340,3310],[4394,3310],[4449,3312],[4503,3312],[4594,3312],[4667,3312],[4776,3308],[4831,3312],
[3212,3294],[3284,3294],[3339,3294],[3430,3294],[3466,3294],[3539,3294],[3721,3294],[4048,3294],[4176,3294],[4358,3294],[4594,3294],[4831,3294],
[3230,3260],[3266,3260],[3321,3260],[3375,3260],[3403,3260],[3466,3260],[3494,3260],[3548,3260],[3594,3260],[3794,3260],[3976,3260],[4149,3260],[4248,3260],[4285,3260],[4403,3260],[4594,3260],[4749,3260],
[3175,3224],[3266,3224],[3339,3224],[3394,3224],[3494,3224],[3557,3224],[3794,3224],[3939,3224],[4103,3224],[4194,3224],[4312,3224],[4467,3224],[4485,3224],[4612,3224],[4649,3224],[4749,3224],[4822,3224],
[3221,3182],[3494,3182],[3512,3182],[3794,3182],[3839,3182],[3894,3182],[3912,3182],[4094,3182],[4221,3182],[4321,3182],[4503,3182],
[3630,3127],[4130,3127],[4703,3127],
[3650,3150],[3720,3095],[3800,3130],[3880,3062],[3960,3170],[4060,3110],[4150,3080],[4230,3150],[4310,3100],[4400,3170],[4480,3075],[4560,3120],[4640,3160],[4720,3090],[4800,3140],[4880,3070],
[3500,3413],[3600,3425],[3700,3440],[3800,3430],[3950,3417],[4000,3419],[4040,3417],[4100,3436],[4180,3425],[4300,3445],[4420,3432],[4500,3425],[4600,3440],[4750,3430],[4850,3425],[4950,3440],[5100,3432],[5250,3440],[5400,3428],[5550,3436],[5700,3445],[5900,3432],
[3620,3345],[3660,3372],[3690,3338],[3730,3360],[3765,3348],[3800,3370],[3840,3335],[3875,3355],[3910,3342],[3950,3368],[3990,3352],[4030,3338],[4070,3361],[4110,3347],[4150,3372],[4190,3336],[4230,3357],[4270,3343],[4310,3366],[4350,3350],[4390,3338],[4430,3362],[4470,3346],[4510,3370],[4560,3340],[4600,3358],[4650,3348],[4700,3372],[4740,3336],[4790,3356],[4840,3344],[4880,3368],[4930,3350],[4980,3338],[5030,3362],[5080,3346],[5130,3372],[5180,3340],[5230,3358],[5290,3347],[5340,3368],[5400,3337],[5460,3360],[5520,3345],[5580,3372],[5700,3340],[5760,3366],[5870,3345],[5960,3370],[6110,3342],[6260,3375],[6400,3345],[6550,3378],[6700,3343],[6900,3372],[7000,3340],[7060,3380],[7300,3345],[7350,3372],[7420,3336],[7650,3368],[7720,3342],[7900,3375],[8000,3345],[8080,3365],[8150,3380],
[4420,3388],[4520,3385],[4610,3390],[4700,3386],[4790,3389],[4880,3384],[4990,3391],[5070,3388],[5150,3393],[5240,3387],[5330,3395],[5420,3390],
[5477,3403],[5497,3396],[5560,3398],[5610,3396],[5650,3395],[5802,3403],[5834,3395],[6040,3403],[6060,3402],[6080,3403],[6125,3395],[6150,3403],[6190,3402],[6230,3403],[6310,3403],[6335,3395],[6360,3403],[6400,3402],[6440,3403],[6490,3403],[6540,3396],[6570,3403],[6620,3403],[6660,3402],[6680,3395],[6700,3403],[6750,3403],[6790,3402],[7125,3403],[7150,3395],[7550,3396],[7600,3403],[7700,3395],[7750,3403],[7760,3396],[7830,3403],[7860,3402],[7890,3403],[7950,3403],
[5627,3355],[5650,3356],[5730,3354],[5780,3355],[5810,3356],[5920,3354],[6020,3355],[6060,3356],[6080,3353],[6140,3355],[6170,3356],[6200,3354],[6310,3355],[6350,3356],[6430,3355],[6480,3354],[6500,3356],[6520,3355],[6545,3354],[6570,3356],[6600,3355],[6630,3354],[6680,3355],[6720,3356],[6740,3355],[6760,3354],[6810,3355],[6830,3356],[6850,3355],[7160,3354],[7200,3356],[7240,3355],[7480,3354],[7560,3355],[7580,3356],
[6240,3363],[6275,3362],[6300,3363],[6330,3364],[6370,3363],[6410,3362],[6450,3363],[6520,3364],[6580,3363],[6650,3362],[6710,3363],[6760,3362],[6800,3364],[6860,3363],[6250,3333],[6300,3332],[6360,3333],[6420,3334],[6470,3333],[6530,3332],[6600,3333],[6660,3334],[6730,3333],[6790,3332],[6850,3333],
[6860,3430],[6895,3431],[6960,3430],[7010,3431],[7040,3430],[7080,3430],[7120,3431],[7150,3430],[7180,3430],[8340,3415],[8390,3415],[8580,3430],[8640,3430],[8680,3415],[8630,3410],[8320,3400],[8480,3400],[8560,3350],
[4960,3318],[5040,3290],[5100,3312],[5180,3262],[5250,3320],[5320,3240],[5400,3305],[5470,3275],[5560,3322],[5620,3250],[5700,3298],[5760,3315],[5850,3268],[5930,3309],[6000,3232],[6100,3318],[6170,3285],[6260,3301],[6340,3250],[6420,3312],[6500,3270],[6580,3296],[6690,3318],[6770,3240],[6880,3305],[6960,3282],[7050,3318],[7120,3262],[7200,3305],[7290,3240],[7380,3320],[7450,3290],[7520,3312],[7600,3255],[7690,3300],[7780,3322],[7860,3270],[7950,3308],[8050,3318],[8120,3282],
[4990,3200],[5080,3160],[5150,3225],[5230,3185],[5330,3212],[5430,3170],[5520,3230],[5600,3195],[5690,3150],[5770,3215],[5880,3180],[5960,3228],[6050,3162],[6140,3205],[6230,3190],[6330,3222],[6410,3155],[6490,3198],[6590,3232],[6660,3170],[6740,3210],[6830,3185],[6920,3225],[7000,3160],[7090,3200],[7170,3230],[7260,3175],[7340,3215],[7430,3150],[7520,3190],[7610,3225],[7700,3165],[7790,3205],[7880,3232],[7970,3178],[8070,3215],[8160,3160],
[4980,3108],[5090,3078],[5200,3130],[5300,3092],[5420,3118],[5510,3070],[5640,3140],[5720,3098],[5830,3062],[5930,3125],[6040,3085],[6120,3140],[6220,3100],[6300,3070],[6380,3130],[6470,3092],[6560,3118],[6650,3075],[6730,3142],[6820,3102],[6900,3068],[6990,3128],[7070,3090],[7160,3112],[7230,3064],[7320,3135],[7410,3098],[7490,3072],[7580,3122],[7650,3085],[7740,3140],[7820,3060],[7900,3108],[7990,3080],[8080,3130],[8150,3095],
[8260,3340],[8350,3300],[8420,3360],[8520,3280],[8600,3320],[8700,3250],[8790,3372],[8860,3305],[8950,3240],[9040,3330],[9120,3270],[9210,3350],[9300,3228],[9380,3300],[9460,3375],[9540,3250],[9620,3330],[9700,3215],[9705,3271],[9800,3271],[9860,3271],[9930,3271],[9960,3340],[9780,3320],[9880,3220],[8300,3220],[8470,3210],[8660,3200],[8900,3215],[9150,3205],[9350,3212],[9600,3200],[9820,3208],[9940,3230]
];

const points = [];
[cloudCols, cloudCols2, cloudLower].forEach(set => set.forEach(([x, ys]) => ys.forEach(y => points.push([x, y]))));
bandRows.forEach(([y, xs]) => xs.forEach(x => points.push([x, y])));
scatterPts.forEach(p => points.push(p));

const X_MIN = xTicks[0], X_MAX = xTicks[xTicks.length - 1];
const X_STEP = (X_MAX - X_MIN) / (xTicks.length - 1);
const Y_MIN = yTicks[0], Y_MAX = yTicks[yTicks.length - 1];
const Y_STEP = (Y_MAX - Y_MIN) / (yTicks.length - 1);

const FONT = 'Liberation Sans';
const chart = echarts.init(document.getElementById('c'), null, {renderer: 'canvas'});
chart.setOption({
  animation: false,
  backgroundColor: '#ffffff',
  grid: {left: 3, right: 35, top: 7, bottom: 22, containLabel: false},
  xAxis: {
    type: 'value', min: X_MIN, max: X_MAX, interval: X_STEP,
    axisLine: {show: true, lineStyle: {color: '#000', width: 1}},
    axisTick: {show: true, inside: false, length: 3, lineStyle: {color: '#000'}},
    axisLabel: {
      color: '#000', fontFamily: FONT, fontSize: 11, margin: 4,
      showMinLabel: true, showMaxLabel: true, hideOverlap: false,
      formatter: v => { const i = Math.round((v - X_MIN) / X_STEP); return xTicks[i] !== undefined ? String(xTicks[i]) : ''; }
    },
    splitLine: {show: true, lineStyle: {color: '#c4c4c4', type: [3, 3], width: 1}}
  },
  yAxis: {
    type: 'value', position: 'right', min: Y_MIN, max: Y_MAX, interval: Y_STEP,
    axisLine: {show: true, lineStyle: {color: '#000', width: 1}},
    axisTick: {show: true, inside: false, length: 3, lineStyle: {color: '#000'}},
    axisLabel: {
      color: '#000', fontFamily: FONT, fontSize: 11, margin: 5,
      showMinLabel: true, showMaxLabel: true,
      formatter: v => { const i = Math.round((v - Y_MIN) / Y_STEP); return yTicks[i] !== undefined ? String(yTicks[i]) : ''; }
    },
    splitLine: {show: true, lineStyle: {color: '#c4c4c4', type: [3, 3], width: 1}}
  },
  graphic: [
    {type: 'rect', silent: true, z: 100, shape: {x: 3.5, y: 0.5, width: 1825, height: 264}, style: {fill: null, stroke: '#000', lineWidth: 1}},
    {type: 'text', silent: true, z: 101, left: 7, top: 3, style: {text: title, fill: '#000', font: '11px "Liberation Sans"'}},
    {type: 'polyline', silent: true, shape: {points: [[0, 284.5], [302.5, 284.5], [302.5, 287]]}, style: {stroke: '#000', fill: null, lineWidth: 1}},
    {type: 'polyline', silent: true, shape: {points: [[474.5, 287], [474.5, 284.5], [1864, 284.5]]}, style: {stroke: '#000', fill: null, lineWidth: 1}}
  ],
  series: [{
    type: 'scatter', data: points, symbol: 'rect', symbolSize: 3,
    itemStyle: {color: '#14149c', opacity: 1},
    large: false, progressive: 0, silent: true
  }]
});
</script></body></html>
